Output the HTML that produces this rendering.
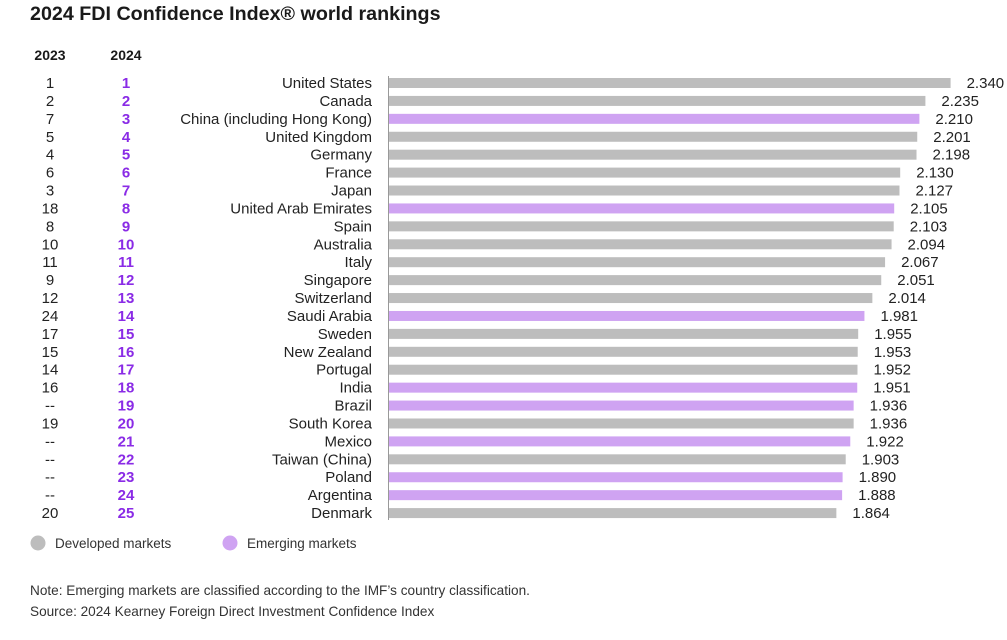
<!DOCTYPE html>
<html><head><meta charset="utf-8"><style>body{margin:0;background:#fff}svg{display:block}</style></head><body>
<svg width="1007" height="640" xmlns="http://www.w3.org/2000/svg" font-family="Liberation Sans, sans-serif">
<text x="30" y="20" font-size="19.7" font-weight="bold" fill="#1a1a1a">2024 FDI Confidence Index® world rankings</text>
<text x="50" y="60" font-size="14" font-weight="bold" text-anchor="middle" fill="#1a1a1a">2023</text>
<text x="126" y="60" font-size="14" font-weight="bold" text-anchor="middle" fill="#1a1a1a">2024</text>
<line x1="388.5" y1="76" x2="388.5" y2="520" stroke="#999" stroke-width="1"/>
<g id="rows" font-size="15"></g>
<circle cx="38" cy="543" r="7.5" fill="#bdbdbd"/>
<text x="55" y="548" font-size="13.5" fill="#333">Developed markets</text>
<circle cx="230" cy="543" r="7.5" fill="#cfa3f2"/>
<text x="247" y="548" font-size="13.5" fill="#333">Emerging markets</text>
<text x="30" y="595" font-size="13.6" fill="#333">Note: Emerging markets are classified according to the IMF’s country classification.</text>
<text x="30" y="616" font-size="13.6" fill="#333">Source: 2024 Kearney Foreign Direct Investment Confidence Index</text>
</svg>
<script>
const d=[["1","United States",2.340,0],["2","Canada",2.235,0],["7","China (including Hong Kong)",2.210,1],["5","United Kingdom",2.201,0],["4","Germany",2.198,0],["6","France",2.130,0],["3","Japan",2.127,0],["18","United Arab Emirates",2.105,1],["8","Spain",2.103,0],["10","Australia",2.094,0],["11","Italy",2.067,0],["9","Singapore",2.051,0],["12","Switzerland",2.014,0],["24","Saudi Arabia",1.981,1],["17","Sweden",1.955,0],["15","New Zealand",1.953,0],["14","Portugal",1.952,0],["16","India",1.951,1],["--","Brazil",1.936,1],["19","South Korea",1.936,0],["--","Mexico",1.922,1],["--","Taiwan (China)",1.903,0],["--","Poland",1.890,1],["--","Argentina",1.888,1],["20","Denmark",1.864,0]];
let s="";d.forEach((r,i)=>{const y=83+i*17.92;const w=r[2]*240;
s+=`<text x="50" y="${y+5}" text-anchor="middle" fill="#222">${r[0]}</text>`;
s+=`<text x="126" y="${y+5}" text-anchor="middle" font-weight="bold" fill="#8a2be6">${i+1}</text>`;
s+=`<text x="372" y="${y+5}" text-anchor="end" fill="#222">${r[1]}</text>`;
s+=`<rect x="389" y="${y-5}" width="${w}" height="10" fill="${r[3]?'#cfa3f2':'#bdbdbd'}"/>`;
s+=`<text x="${389+w+16}" y="${y+5}" fill="#222">${r[2].toFixed(3)}</text>`;});
document.getElementById("rows").innerHTML=s;
</script>
</body></html>
